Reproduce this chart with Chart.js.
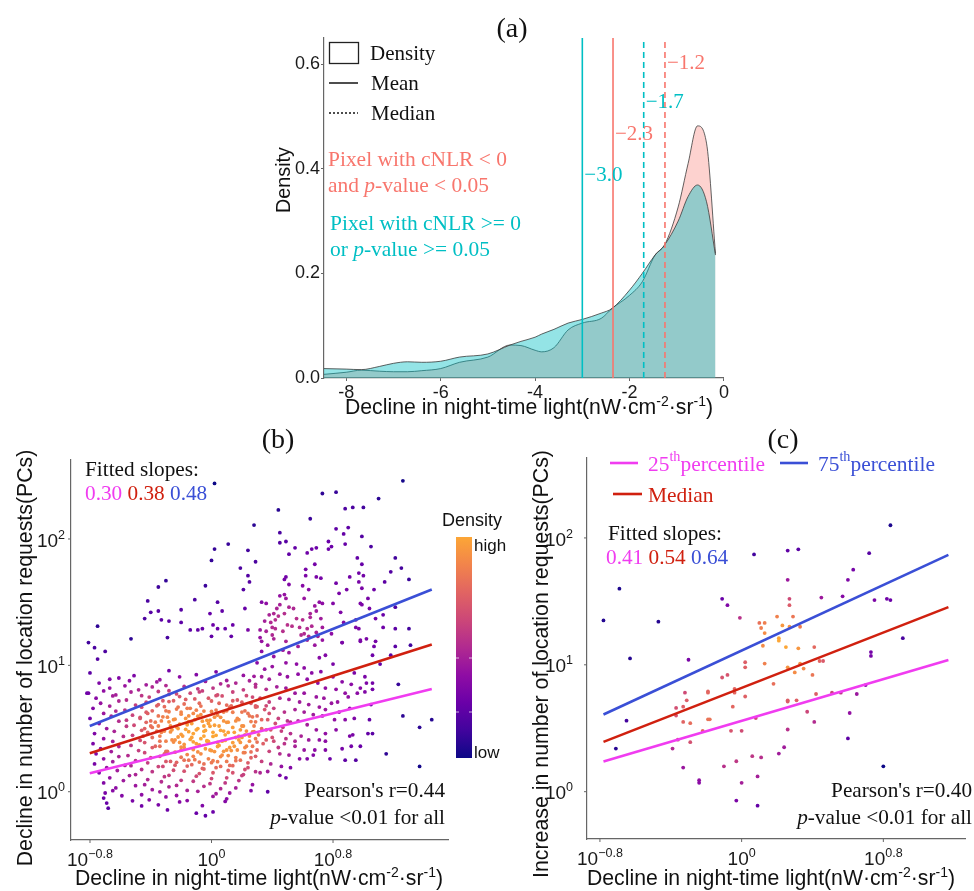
<!DOCTYPE html>
<html>
<head>
<meta charset="utf-8">
<script src="https://cdn.jsdelivr.net/npm/chart.js@4.4.0/dist/chart.umd.min.js"></script>
<style>
  body { margin: 0; background: #fff; width: 974px; height: 891px; overflow: hidden; position: relative; }
  canvas { position: absolute; }
  #ca { left: 240px; top: 0; }
  #cb { left: 0; top: 425px; }
  #cc { left: 490px; top: 425px; }
</style>
</head>
<body>
<canvas id="ca" width="490" height="425"></canvas>
<canvas id="cb" width="520" height="466"></canvas>
<canvas id="cc" width="484" height="466"></canvas>
<script>
// ---- panel (a): density of night-time light decline ----
const densityX    = [-8.47, -8.0, -7.68, -7.3, -7.0, -6.7, -6.4, -6.0, -5.6, -5.0, -4.53, -4.3, -4.0, -3.86, -3.6, -3.3, -3.0, -2.6, -2.37, -2.0, -1.73, -1.46, -1.26, -0.97, -0.76, -0.56, -0.37, -0.18];
const densityTeal = [0.018, 0.017, 0.016, 0.022, 0.028, 0.031, 0.030, 0.032, 0.040, 0.046, 0.063, 0.070, 0.078, 0.084, 0.093, 0.105, 0.112, 0.124, 0.133, 0.168, 0.200, 0.235, 0.254, 0.300, 0.347, 0.369, 0.337, 0.235];
const densityPink = [0.007, 0.011, 0.015, 0.013, 0.012, 0.012, 0.014, 0.018, 0.030, 0.040, 0.063, 0.062, 0.053, 0.050, 0.058, 0.092, 0.105, 0.114, 0.133, 0.158, 0.184, 0.235, 0.254, 0.327, 0.410, 0.482, 0.449, 0.238];
const refLineX      = [-3.0, -2.35, -1.7, -1.25];
const refLineLabel  = ['\u22123.0', '\u22122.3', '\u22121.7', '\u22121.2'];
const refLineLabelY = [0.39, 0.47, 0.53, 0.605];
const refLineGroup  = ['teal', 'pink', 'teal', 'pink'];
const refLineKind   = ['mean', 'mean', 'median', 'median'];

// ---- panel (b): log10 of (decline in NTL, decline in requests) ----
const bLogPts = [
  [0.02,2.44],[0.28,2.11],[0.02,1.92],[0.11,1.96],[0.24,1.91],[0.0,1.83],[0.29,1.82],[-0.30,1.67],[-0.35,1.62],[-0.04,1.63],
  [0.19,1.77],[0.24,1.71],[0.25,1.66],[0.21,1.60],[-0.42,1.51],[-0.11,1.52],[0.04,1.50],[-0.40,1.42],[-0.35,1.43],[-0.44,1.37],
  [-0.33,1.36],[-0.28,1.35],[-0.20,1.44],[-0.01,1.41],[0.07,1.43],[0.22,1.45],[-0.20,1.34],[-0.75,1.31],[-0.14,1.28],[-0.09,1.28],
  [-0.06,1.29],[0.01,1.32],[0.04,1.29],[0.09,1.29],[0.14,1.32],[0.24,1.28],[-0.29,1.22],[-0.53,1.21],[-0.81,1.18],[0.0,1.23],[0.13,1.23],
  [1.26,2.46],[0.73,2.36],[0.82,2.37],[1.10,2.32],[0.44,2.23],[0.88,2.24],[0.93,2.25],[1.00,2.25],[0.65,2.16],[0.45,2.05],
  [0.82,2.08],[0.90,2.09],[0.87,2.04],[0.99,2.02],[0.45,1.97],[0.49,1.98],[0.55,1.93],[0.51,1.88],[0.63,1.89],[0.66,1.92],
  [0.69,1.93],[0.77,1.98],[0.79,1.94],[0.77,1.92],[0.88,1.96],[1.05,1.94],[0.68,1.80],[0.96,1.85],[0.99,1.80],[1.21,1.85],
  [1.25,1.77],[1.18,1.74],[1.30,1.68],[0.62,1.76],[0.62,1.71],[0.49,1.70],[0.48,1.68],[0.69,1.70],[0.72,1.69],[0.91,1.70],
  [0.97,1.73],[1.00,1.71],[0.51,1.64],[0.60,1.63],[0.82,1.65],[0.97,1.66],[0.99,1.61],[1.14,1.66],[0.64,1.60],[0.89,1.60],
  [1.07,1.60],[0.84,1.57],[0.45,1.55],[0.48,1.56],[0.61,1.53],[1.03,1.53],[0.33,1.50],[0.36,1.49],[0.49,1.53],[0.68,1.47],
  [0.71,1.50],[0.73,1.49],[0.80,1.49],[0.98,1.49],[0.99,1.48],[1.21,1.46],[1.04,1.45],[0.85,1.42],[1.13,1.40],[1.08,1.37],
  [0.95,1.36],[0.87,1.34],[0.95,1.30],[0.97,1.29],[1.13,1.30],[1.21,1.29],[1.30,1.29],[0.79,1.25],[0.98,1.20],[1.02,1.21],
  [1.08,1.19],[0.86,1.18],
  [0.43,1.45],[0.45,1.48],[0.51,1.46],[0.54,1.45],[0.38,1.40],[0.41,1.41],[0.44,1.39],[0.48,1.41],[0.35,1.35],[0.39,1.34],
  [0.42,1.36],[0.56,1.37],[0.60,1.36],[0.65,1.41],[0.65,1.38],[0.69,1.43],[0.32,1.28],[0.36,1.27],[0.40,1.30],[0.42,1.29],
  [0.50,1.32],[0.53,1.31],[0.58,1.30],[0.63,1.29],[0.66,1.31],[0.72,1.37],[0.73,1.30],[0.32,1.22],[0.40,1.24],[0.47,1.27],
  [0.59,1.24],[0.61,1.25],[0.64,1.23],[0.69,1.26],[0.70,1.23],[0.33,1.19],[0.41,1.21],[0.49,1.19],[0.63,1.20],[0.73,1.20],
  [-0.77,1.14],[-0.70,1.11],[-0.75,1.05],[-0.82,0.78],[-0.67,0.89],[1.26,0.60],
  [-0.80,0.94],[-0.28,0.958],[-0.10,0.926],[0.03,0.949],[0.21,0.92],
  [-0.61,0.90],[-0.51,0.918],[-0.34,0.886],[-0.21,0.909],[0.10,0.88],[0.28,0.913],
  [-0.74,0.86],[-0.54,0.878],[-0.43,0.846],[-0.36,0.869],[-0.30,0.84],[-0.04,0.873],[0.06,0.854],[0.16,0.86],[0.25,0.878],
  [-0.67,0.82],[-0.57,0.838],[-0.48,0.806],[-0.39,0.829],[-0.28,0.80],[-0.18,0.833],[-0.09,0.814],[0.01,0.82],[0.11,0.838],[0.21,0.806],[0.29,0.829],
  [-0.81,0.78],[-0.71,0.798],[-0.63,0.766],[-0.53,0.789],[-0.46,0.76],[-0.35,0.793],[-0.23,0.774],[-0.14,0.78],[-0.06,0.798],[0.04,0.766],[0.14,0.789],[0.23,0.76],
  [-0.76,0.74],[-0.65,0.758],[-0.56,0.726],[-0.41,0.749],[-0.32,0.72],[-0.21,0.753],[-0.11,0.734],[-0.02,0.74],[0.07,0.758],[0.17,0.726],[0.27,0.749],
  [-0.73,0.70],[-0.61,0.718],[-0.50,0.686],[-0.43,0.709],[-0.36,0.68],[-0.28,0.713],[-0.18,0.694],[-0.08,0.70],[0.0,0.718],[0.10,0.686],[0.20,0.709],[0.29,0.68],
  [-0.78,0.66],[-0.67,0.678],[-0.57,0.646],[-0.46,0.669],[-0.39,0.64],[-0.31,0.673],[-0.23,0.654],[-0.16,0.66],[-0.07,0.678],[0.03,0.646],[0.12,0.669],[0.22,0.64],[0.30,0.673],
  [-0.71,0.62],[-0.63,0.638],[-0.52,0.606],[-0.43,0.629],[-0.35,0.60],[-0.28,0.633],[-0.20,0.614],[-0.12,0.62],[-0.05,0.638],[0.04,0.606],[0.14,0.629],[0.25,0.60],
  [-0.80,0.58],[-0.66,0.598],[-0.56,0.566],[-0.47,0.589],[-0.40,0.56],[-0.32,0.593],[-0.24,0.574],[-0.17,0.58],[-0.09,0.598],[-0.01,0.566],[0.06,0.589],[0.16,0.56],[0.27,0.593],
  [-0.74,0.54],[-0.61,0.558],[-0.51,0.526],[-0.43,0.549],[-0.35,0.52],[-0.28,0.553],[-0.21,0.534],[-0.13,0.54],[-0.06,0.558],[0.02,0.526],[0.10,0.549],[0.20,0.52],[0.29,0.553],
  [-0.69,0.50],[-0.56,0.518],[-0.46,0.486],[-0.39,0.509],[-0.31,0.48],[-0.23,0.513],[-0.17,0.494],[-0.09,0.50],[-0.01,0.518],[0.06,0.486],[0.14,0.509],[0.23,0.48],
  [-0.77,0.46],[-0.64,0.478],[-0.52,0.446],[-0.42,0.469],[-0.34,0.44],[-0.27,0.473],[-0.20,0.454],[-0.12,0.46],[-0.05,0.478],[0.03,0.446],[0.11,0.469],[0.18,0.44],[0.27,0.473],
  [-0.71,0.42],[-0.58,0.438],[-0.47,0.406],[-0.39,0.429],[-0.30,0.40],[-0.22,0.433],[-0.14,0.414],[-0.07,0.42],[0.01,0.438],[0.09,0.406],[0.16,0.429],[0.25,0.40],
  [-0.78,0.38],[-0.65,0.398],[-0.53,0.366],[-0.44,0.389],[-0.34,0.36],[-0.25,0.393],[-0.18,0.374],[-0.10,0.38],[-0.02,0.398],[0.05,0.366],[0.14,0.389],[0.23,0.36],[0.30,0.393],
  [-0.73,0.34],[-0.61,0.358],[-0.48,0.326],[-0.39,0.349],[-0.29,0.32],[-0.20,0.353],[-0.12,0.334],[-0.04,0.34],[0.04,0.358],[0.13,0.326],[0.22,0.349],
  [-0.76,0.30],[-0.66,0.318],[-0.55,0.286],[-0.44,0.309],[-0.34,0.28],[-0.24,0.313],[-0.16,0.294],[-0.07,0.30],[0.02,0.318],[0.11,0.286],[0.21,0.309],[0.29,0.28],
  [-0.71,0.26],[-0.61,0.278],[-0.50,0.246],[-0.40,0.269],[-0.30,0.24],[-0.20,0.273],[-0.11,0.254],[-0.02,0.26],[0.06,0.278],[0.16,0.246],[0.26,0.269],
  [-0.77,0.22],[-0.65,0.238],[-0.53,0.206],[-0.42,0.229],[-0.32,0.20],[-0.23,0.233],[-0.13,0.214],[-0.05,0.22],[0.04,0.238],[0.14,0.206],[0.24,0.229],
  [-0.69,0.19],[-0.57,0.208],[-0.46,0.176],[-0.35,0.199],[-0.25,0.17],[-0.16,0.203],[-0.06,0.184],[0.03,0.19],[0.12,0.208],[0.22,0.176],
  [-0.74,0.15],[-0.62,0.168],[-0.50,0.136],[-0.39,0.159],[-0.28,0.13],[-0.18,0.163],[-0.08,0.144],[0.01,0.15],[0.11,0.168],[0.21,0.136],[0.29,0.159],
  [-0.67,0.11],[-0.54,0.128],[-0.42,0.096],[-0.31,0.119],[-0.20,0.09],[-0.10,0.123],[0.0,0.104],[0.10,0.11],[0.20,0.128],
  [-0.71,0.07],[-0.58,0.088],[-0.44,0.056],[-0.33,0.079],[-0.23,0.05],[-0.12,0.083],[-0.01,0.064],[0.09,0.07],[0.18,0.088],[0.27,0.056],
  [-0.63,0.03],[-0.50,0.048],[-0.39,0.016],[-0.28,0.039],[-0.16,0.01],[-0.05,0.043],[0.06,0.024],[0.16,0.03],
  [-0.70,-0.01],[-0.65,0.008],[-0.46,-0.024],[-0.34,-0.001],[-0.23,-0.03],[-0.09,0.003],[0.03,-0.016],[0.12,-0.01],[0.26,0.008],
  [-0.71,-0.05],[-0.59,-0.032],[-0.41,-0.064],[-0.30,-0.041],[-0.16,-0.07],[0.01,-0.037],[0.10,-0.056],
  [-0.69,-0.09],[-0.52,-0.072],[-0.35,-0.104],[-0.21,-0.081],[-0.06,-0.11],[0.09,-0.077],
  [-0.68,-0.13],[-0.46,-0.112],[-0.29,-0.144],[-0.10,-0.17],[0.01,-0.16],[-0.04,-0.19],
  [-0.30,0.64],[-0.20,0.63],[-0.10,0.645],[0.0,0.635],[0.10,0.64],[0.20,0.63],
  [-0.33,0.56],[-0.25,0.57],[-0.15,0.555],[-0.03,0.565],[0.08,0.56],[0.18,0.57],[0.26,0.555],
  [-0.36,0.48],[-0.26,0.49],[-0.15,0.475],[-0.04,0.485],[0.08,0.48],[0.19,0.49],[0.28,0.475],
  [-0.34,0.40],[-0.24,0.41],[-0.12,0.395],[-0.03,0.405],[0.07,0.40],[0.18,0.41],
  [-0.30,0.32],[-0.20,0.33],[-0.09,0.315],[0.0,0.325],[0.08,0.32],[0.17,0.33],[0.26,0.315],
  [-0.27,0.24],[-0.18,0.25],[-0.08,0.235],[0.01,0.245],[0.10,0.24],[0.19,0.25],
  [-0.45,0.44],[0.22,0.45],[-0.40,0.52],[-0.05,0.52],[0.15,0.36],[-0.15,0.60],[0.05,0.70],[-0.25,0.72],
  [-0.42,0.62],[-0.37,0.55],[-0.33,0.47],[-0.29,0.59],[-0.27,0.52],[-0.26,0.41],[-0.22,0.67],[-0.22,0.50],[-0.19,0.44],[-0.18,0.35],
  [-0.16,0.53],[-0.14,0.66],[-0.13,0.43],[-0.11,0.57],[-0.10,0.49],[-0.08,0.37],[-0.07,0.61],[-0.05,0.44],[-0.02,0.54],[-0.01,0.33],
  [0.01,0.47],[0.02,0.59],[0.04,0.39],[0.05,0.52],[0.07,0.29],[0.08,0.63],[0.09,0.45],[0.11,0.55],[0.12,0.35],[0.13,0.68],
  [0.15,0.47],[0.16,0.27],[0.17,0.58],[0.19,0.39],[0.21,0.52],[0.22,0.31],[0.24,0.62],[0.25,0.44],[0.27,0.36],[0.28,0.52],
  [0.31,0.45],[0.33,0.57],[0.34,0.38],[0.36,0.49],[0.38,0.62],[0.40,0.43],[0.42,0.54],[0.44,0.35],[0.47,0.51],[0.49,0.42],
  [0.52,0.55],[0.55,0.40],[-0.31,0.30],[-0.24,0.21],[-0.15,0.25],[-0.05,0.18],[0.06,0.20],[0.14,0.15],[0.24,0.19],[-0.37,0.36],
  [-0.44,0.50],[-0.47,0.58],[-0.35,0.69],[-0.28,0.77],[-0.17,0.73],[-0.08,0.79],[0.03,0.76],[0.14,0.72],[0.26,0.70],[0.36,0.68],
  [-0.12,0.28],[0.00,0.23],[-0.21,0.39],[0.10,0.33],[0.20,0.43],[-0.03,0.40],
  [0.86,1.18],[0.98,1.19],[1.07,1.15],[1.06,1.08],[1.21,1.15],[1.31,1.16],[1.18,1.08],[1.11,1.01],[0.80,1.01],[0.75,1.08],
  [0.71,1.06],[0.68,1.16],[0.57,1.15],[0.51,1.10],[0.47,1.12],[0.41,1.07],[0.37,1.16],[0.33,1.11],[0.30,1.02],[0.35,0.97],
  [0.40,0.99],[0.49,1.02],[0.56,1.01],[0.61,0.98],[0.66,0.94],[0.72,0.95],[0.80,0.91],[0.86,0.87],[0.94,0.94],[1.01,0.91],
  [1.02,0.86],[1.06,0.86],[1.06,0.81],[0.98,0.82],[0.92,0.85],[0.88,0.78],[0.82,0.81],[0.75,0.82],[0.70,0.86],[0.63,0.89],
  [0.57,0.93],[0.50,0.91],[0.45,0.93],[0.38,0.89],[0.33,0.91],[0.29,0.85],[0.36,0.81],[0.43,0.83],[0.49,0.82],[0.55,0.78],
  [0.61,0.78],[0.69,0.75],[0.74,0.74],[0.79,0.70],[0.83,0.71],[0.90,0.75],[0.96,0.78],[1.01,0.79],[1.23,0.85],[1.05,0.69],
  [0.91,0.66],[0.84,0.63],[0.75,0.65],[0.71,0.67],[0.64,0.69],[0.58,0.71],[0.51,0.73],[0.45,0.74],[0.38,0.71],[0.32,0.74],
  [0.29,0.67],[0.35,0.65],[0.41,0.66],[0.48,0.63],[0.55,0.65],[0.61,0.63],[0.67,0.61],[0.73,0.60],[0.81,0.57],[0.88,0.57],
  [0.94,0.58],[1.04,0.57],[1.45,0.57],[1.37,0.51],[0.30,0.60],[0.37,0.57],[0.44,0.58],[0.50,0.56],[0.57,0.56],[0.63,0.53],
  [0.69,0.49],[0.75,0.46],[0.82,0.49],[0.91,0.44],[0.93,0.45],[1.03,0.46],[1.06,0.46],[0.33,0.50],[0.39,0.49],[0.46,0.48],
  [0.52,0.46],[0.59,0.44],[0.64,0.41],[0.71,0.41],[0.75,0.40],[0.86,0.34],[0.92,0.36],[0.98,0.36],[0.29,0.42],[0.36,0.41],
  [0.41,0.40],[0.48,0.38],[0.55,0.36],[0.61,0.33],[0.68,0.33],[0.75,0.33],[0.63,0.26],[0.67,0.29],[0.78,0.26],[1.15,0.30],
  [0.88,0.25],[0.95,0.25],[0.30,0.33],[0.38,0.32],[0.45,0.30],[0.51,0.29],[0.58,0.26],[1.37,0.20],[0.33,0.24],[0.39,0.22],
  [0.46,0.20],[0.52,0.19],[0.32,0.15],[0.37,0.16],[0.45,0.13],[0.49,0.11],[0.37,0.00]
];
const bFitX    = [0.158, 28.2];
const bFitQ25  = [1.40, 6.5];
const bFitMed  = [2.02, 14.6];
const bFitQ75  = [3.31, 39.8];
const bSlopes  = ['0.30', '0.38', '0.48'];
const bPearson = '0.44';

// ---- panel (c): log10 of (decline in NTL, increase in requests) ----
const cLogPts = [
  [-0.78,1.35],[-0.69,1.60],[-0.47,1.34],[-0.63,1.05],[-0.65,0.56],[-0.71,0.34],[0.84,2.10],[0.91,1.21],
  [0.07,1.87],[0.26,1.90],[0.32,1.91],[0.72,1.88],[0.63,1.75],[0.60,1.67],[0.26,1.67],
  [-0.11,1.52],[-0.08,1.47],[0.27,1.52],[0.27,1.47],[0.45,1.53],[0.57,1.54],[0.75,1.51],[0.82,1.52],[0.84,1.51],
  [-0.01,1.37],[0.10,1.33],[0.13,1.33],[0.11,1.29],[0.13,1.25],[0.20,1.38],[0.23,1.31],[0.29,1.38],[0.27,1.30],[0.33,1.30],
  [0.21,1.21],[0.21,1.19],[0.12,1.15],[0.25,1.14],[0.32,1.13],[0.41,1.14],[0.73,1.10],[0.73,1.07],
  [-0.30,1.04],[0.02,1.02],[0.02,0.98],[0.13,1.01],[0.26,0.98],[0.33,1.01],[0.35,0.97],[0.30,0.94],[0.40,0.92],[0.44,1.03],[0.46,1.03],
  [-0.11,0.90],[-0.08,0.92],[0.18,0.85],[-0.19,0.79],[-0.19,0.78],[-0.04,0.81],[-0.04,0.78],[-0.32,0.78],[-0.31,0.72],
  [-0.37,0.66],[-0.33,0.67],[-0.37,0.60],[-0.33,0.55],[-0.29,0.54],[-0.19,0.57],[-0.18,0.57],[-0.05,0.67],[0.02,0.75],[0.08,0.58],
  [0.26,0.72],[0.26,0.71],[0.31,0.72],[0.42,0.77],[0.51,0.78],[0.56,0.78],[0.65,0.77],[0.70,0.84],[0.61,0.62],[0.37,0.63],[0.41,0.55],[0.26,0.49],
  [-0.22,0.48],[0.00,0.48],[-0.06,0.48],[-0.39,0.34],[-0.36,0.41],[-0.29,0.39],[0.60,0.42],
  [-0.33,0.19],[-0.10,0.20],[-0.03,0.24],[0.06,0.28],[0.11,0.27],[0.21,0.30],[0.24,0.35],[0.09,0.12],[0.00,0.07],
  [-0.24,0.09],[-0.24,0.07],[-0.03,-0.07],[0.09,-0.11],[0.80,0.20]
];
const cFitX    = [0.166, 14.7];
const cFitQ25  = [1.73, 10.9];
const cFitMed  = [2.47, 28.5];
const cFitQ75  = [4.06, 73.6];
const cSlopes  = ['0.41', '0.54', '0.64'];
const cPearson = '0.40';

// log axes: tick exponents
const xTickExp = [-0.8, 0, 0.8];
const yTickExp = [0, 1, 2];

// ---- styles ----
const SANS = '"Liberation Sans", Arial, sans-serif';
const SERIF = '"Liberation Serif", "Times New Roman", serif';
const PINK = '#F8766D', TEAL = '#00BFC4';
const MAG = '#F03CF0', RED = '#D0200F', BLUE = '#3A4FD6';
const AXIS = '#666';

const PLASMA = [[13,8,135],[65,4,157],[106,0,168],[143,13,164],[177,42,144],[204,71,120],[225,100,98],[242,132,75],[252,166,54]];
function plasma(t) { // t in [0,1] -> plasma 0..0.8
  t = Math.max(0, Math.min(1, t)) * (PLASMA.length - 1);
  const i = Math.min(PLASMA.length - 2, Math.floor(t)), f = t - i;
  const c = PLASMA[i].map((v, k) => Math.round(v + (PLASMA[i + 1][k] - v) * f));
  return `rgb(${c[0]},${c[1]},${c[2]})`;
}
// colour points by local point density (gaussian kernel, in screen-like units)
function densityColors(pts, sx, sy, sigma, gamma) {
  const d = pts.map(() => 0);
  for (let i = 0; i < pts.length; i++) {
    for (let j = 0; j < pts.length; j++) {
      const dx = (pts[i][0] - pts[j][0]) * sx, dy = (pts[i][1] - pts[j][1]) * sy;
      d[i] += Math.exp(-(dx * dx + dy * dy) / (2 * sigma * sigma));
    }
  }
  const mn = Math.min(...d), mx = Math.max(...d);
  return d.map(v => plasma(Math.pow((v - mn) / (mx - mn), gamma)));
}

// ---- rich text helpers (superscripts / italics) ----
function segFont(s, size, fam) {
  return (s.it ? 'italic ' : '') + (s.sup ? size * 0.66 : size).toFixed(2) + 'px ' + fam;
}
function richWidth(ctx, segs, size, fam) {
  let w = 0;
  for (const s of segs) { ctx.font = segFont(s, size, fam); w += ctx.measureText(s.t).width; }
  return w;
}
function drawRich(ctx, segs, x, y, o) {
  let size = o.size;
  if (o.fitW) size = size * o.fitW / richWidth(ctx, segs, size, o.fam);
  const w = richWidth(ctx, segs, size, o.fam);
  ctx.save();
  ctx.translate(x, y);
  if (o.rot) ctx.rotate(o.rot);
  let cx = o.align === 'center' ? -w / 2 : o.align === 'right' ? -w : 0;
  ctx.textAlign = 'left';
  ctx.textBaseline = 'alphabetic';
  const base = size * 0.35;
  for (const s of segs) {
    ctx.font = segFont(s, size, o.fam);
    ctx.fillStyle = s.c || o.color || '#111';
    ctx.fillText(s.t, cx, base - (s.sup ? size * 0.42 : 0));
    cx += ctx.measureText(s.t).width;
  }
  ctx.restore();
  return size;
}
const T = t => ({ t });
const xTitleSegs = [T('Decline in night-time light(nW\u00b7cm'), { t: '-2', sup: true }, T('\u00b7sr'), { t: '-1', sup: true }, T(')')];

function drawLogTicks(chart, o) {
  const ctx = chart.ctx, xs = chart.scales.x, ys = chart.scales.y, a = chart.chartArea;
  ctx.save();
  ctx.strokeStyle = AXIS; ctx.lineWidth = 1;
  xTickExp.forEach(e => {
    const px = xs.getPixelForValue(Math.pow(10, e));
    ctx.beginPath(); ctx.moveTo(px, a.bottom); ctx.lineTo(px, a.bottom + 3); ctx.stroke();
    const lab = e === 0 ? '0' : (e < 0 ? '\u2212' : '') + Math.abs(e).toFixed(1);
    drawRich(ctx, [T('10'), { t: lab, sup: true }], px, a.bottom + 19, { size: 19, fam: SANS, align: 'center', color: '#1a1a1a' });
  });
  yTickExp.forEach(e => {
    const py = ys.getPixelForValue(Math.pow(10, e));
    ctx.beginPath(); ctx.moveTo(a.left, py); ctx.lineTo(a.left - 3, py); ctx.stroke();
    drawRich(ctx, [T('10'), { t: String(e), sup: true }], a.left - o.yLabGap, py + 1, { size: 19, fam: SANS, align: 'right', color: '#1a1a1a' });
  });
  ctx.restore();
}

// ---------------- chart (a) ----------------
const decorA = {
  id: 'decorA',
  afterDraw(chart) {
    const ctx = chart.ctx, xs = chart.scales.x, ys = chart.scales.y;
    ctx.save();
    ctx.translate(-240, 0); // page coordinates
    drawRich(ctx, [T('(a)')], 512, 27, { size: 28, fam: SERIF, align: 'center' });
    drawRich(ctx, [T('Density')], 283, 180, { size: 19, fam: SANS, align: 'center', rot: -Math.PI / 2, fitW: 66 });
    drawRich(ctx, xTitleSegs, 529, 407, { size: 18, fam: SANS, align: 'center', fitW: 368 });
    // legend keys
    ctx.strokeStyle = '#222'; ctx.lineWidth = 1.3;
    ctx.strokeRect(329.5, 42.5, 29, 21);
    ctx.beginPath(); ctx.moveTo(329, 83); ctx.lineTo(358, 83); ctx.lineWidth = 1.6; ctx.stroke();
    ctx.setLineDash([2, 2]); ctx.beginPath(); ctx.moveTo(329, 113); ctx.lineTo(358, 113); ctx.stroke(); ctx.setLineDash([]);
    drawRich(ctx, [T('Density')], 370, 53, { size: 21, fam: SERIF });
    drawRich(ctx, [T('Mean')], 371, 83, { size: 21, fam: SERIF });
    drawRich(ctx, [T('Median')], 371, 113, { size: 21, fam: SERIF });
    const s1 = drawRich(ctx, [T('Pixel with cNLR < 0')], 328, 158, { size: 21, fam: SERIF, color: PINK, fitW: 179 });
    drawRich(ctx, [T('and '), { t: 'p', it: true }, T('-value < 0.05')], 328, 184, { size: s1, fam: SERIF, color: PINK });
    drawRich(ctx, [T('Pixel with cNLR >= 0')], 330, 222, { size: s1, fam: SERIF, color: TEAL });
    drawRich(ctx, [T('or '), { t: 'p', it: true }, T('-value >= 0.05')], 330, 248, { size: s1, fam: SERIF, color: TEAL });
    ctx.restore();
    // labels beside the mean / median lines (data positions)
    refLineX.forEach((v, i) => {
      drawRich(ctx, [T(refLineLabel[i])], xs.getPixelForValue(v) + 2, ys.getPixelForValue(refLineLabelY[i]),
        { size: 21, fam: SERIF, color: refLineGroup[i] === 'teal' ? TEAL : PINK });
    });
  }
};

const dsA = [
  { data: densityX.map((x, i) => ({ x, y: densityPink[i] })), fill: 'origin', backgroundColor: 'rgba(248,118,109,0.33)',
    borderColor: '#3a3a3a', borderWidth: 0.8, pointRadius: 0, cubicInterpolationMode: 'monotone', order: 3 },
  { data: densityX.map((x, i) => ({ x, y: densityTeal[i] })), fill: 'origin', backgroundColor: 'rgba(0,191,196,0.42)',
    borderColor: '#3a3a3a', borderWidth: 0.8, pointRadius: 0, cubicInterpolationMode: 'monotone', order: 2 }
];
refLineX.forEach((v, i) => dsA.push({
  data: [{ x: v, y: 0 }, { x: v, y: 0.65 }], fill: false, pointRadius: 0, borderWidth: 1.6,
  borderColor: refLineGroup[i] === 'teal' ? TEAL : PINK, borderDash: refLineKind[i] === 'median' ? [6, 4] : [], order: 1
}));

new Chart(document.getElementById('ca'), {
  type: 'line',
  data: { datasets: dsA },
  options: {
    responsive: false, animation: false, devicePixelRatio: 1,
    layout: { padding: { left: 0, right: 4, top: 38, bottom: 0 } },
    plugins: { legend: { display: false }, tooltip: { enabled: false } },
    scales: {
      x: { type: 'linear', min: -8.47, max: 0,
        afterFit(s) { s.height = 47; },
        ticks: { stepSize: 2, includeBounds: false, maxRotation: 0, padding: 1, color: '#1a1a1a', font: { family: SANS, size: 18 } },
        grid: { drawOnChartArea: false, tickLength: 3, color: AXIS }, border: { color: AXIS, width: 1.2 } },
      y: { min: 0, max: 0.65,
        afterFit(s) { s.width = 84; },
        ticks: { stepSize: 0.2, includeBounds: false, padding: 1, color: '#1a1a1a', font: { family: SANS, size: 18 }, callback: v => v.toFixed(1) },
        grid: { drawOnChartArea: false, tickLength: 3, color: AXIS }, border: { color: AXIS, width: 1.2 } }
    }
  },
  plugins: [decorA]
});

// ---------------- scatter panels (b) and (c) ----------------
function fitSet(xs, ys, color) {
  return { data: xs.map((x, i) => ({ x, y: ys[i] })), showLine: true, borderColor: color, borderWidth: 2.6,
    pointRadius: 0, fill: false, order: 0 };
}
function scatterOptions(p) {
  return {
    responsive: false, animation: false, devicePixelRatio: 1,
    layout: { padding: { left: 0, right: p.padRight, top: p.padTop, bottom: 0 } },
    plugins: { legend: { display: false }, tooltip: { enabled: false } },
    scales: {
      x: { type: 'logarithmic', min: Math.pow(10, p.xExp[0]), max: Math.pow(10, p.xExp[1]),
        afterFit(s) { s.height = p.xH; }, ticks: { display: false }, grid: { display: false },
        border: { color: AXIS, width: 1.2 } },
      y: { type: 'logarithmic', min: Math.pow(10, p.yExp[0]), max: Math.pow(10, p.yExp[1]),
        afterFit(s) { s.width = p.yW; }, ticks: { display: false }, grid: { display: false },
        border: { color: AXIS, width: 1.2 } }
    }
  };
}

const decorB = {
  id: 'decorB',
  afterDraw(chart) {
    const ctx = chart.ctx;
    drawLogTicks(chart, { yLabGap: 6 });
    ctx.save();
    ctx.translate(0, -425);
    drawRich(ctx, [T('(b)')], 278, 438, { size: 28, fam: SERIF, align: 'center' });
    drawRich(ctx, [T('Decline in number of location requests(PCs)')], 25, 658, { size: 19, fam: SANS, align: 'center', rot: -Math.PI / 2, fitW: 417 });
    drawRich(ctx, xTitleSegs, 259, 878, { size: 18, fam: SANS, align: 'center', fitW: 368 });
    const s = drawRich(ctx, [T('Fitted slopes:')], 85, 469, { size: 21, fam: SERIF, fitW: 114 });
    drawRich(ctx, [{ t: bSlopes[0], c: MAG }, T(' '), { t: bSlopes[1], c: RED }, T(' '), { t: bSlopes[2], c: BLUE }], 85, 493, { size: s, fam: SERIF });
    drawRich(ctx, [T("Pearson's r=" + bPearson)], 445, 790, { size: s, fam: SERIF, align: 'right' });
    drawRich(ctx, [{ t: 'p', it: true }, T('-value <0.01 for all')], 445, 817, { size: s, fam: SERIF, align: 'right' });
    // colour bar
    const g = ctx.createLinearGradient(0, 758, 0, 537);
    for (let k = 0; k <= 8; k++) g.addColorStop(k / 8, plasma(k / 8));
    ctx.fillStyle = g;
    ctx.fillRect(456, 537, 16, 221);
    ctx.strokeStyle = 'rgba(255,255,255,0.7)'; ctx.lineWidth = 1;
    [658, 712].forEach(y => {
      ctx.beginPath(); ctx.moveTo(456, y); ctx.lineTo(459, y); ctx.moveTo(469, y); ctx.lineTo(472, y); ctx.stroke();
    });
    drawRich(ctx, [T('Density')], 442, 520, { size: 18, fam: SANS });
    drawRich(ctx, [T('high')], 474, 545, { size: 17, fam: SANS });
    drawRich(ctx, [T('low')], 474, 752, { size: 17, fam: SANS });
    ctx.restore();
  }
};

const bColors = densityColors(bLogPts, 152, 126, 16, 0.7);
new Chart(document.getElementById('cb'), {
  type: 'scatter',
  data: { datasets: [
    fitSet(bFitX, bFitQ75, BLUE), fitSet(bFitX, bFitMed, RED), fitSet(bFitX, bFitQ25, MAG),
    { data: bLogPts.map(p => ({ x: Math.pow(10, p[0]), y: Math.pow(10, p[1]) })), backgroundColor: bColors,
      pointRadius: 1.9, pointBorderWidth: 0, borderWidth: 0, order: 1 }
  ] },
  options: scatterOptions({ padRight: 72, padTop: 35, xH: 51, yW: 71, xExp: [-0.925, 1.557], yExp: [-0.382, 2.625] }),
  plugins: [decorB]
});

const decorC = {
  id: 'decorC',
  afterDraw(chart) {
    const ctx = chart.ctx;
    drawLogTicks(chart, { yLabGap: 14 });
    ctx.save();
    ctx.translate(-490, -425);
    drawRich(ctx, [T('(c)')], 783, 438, { size: 28, fam: SERIF, align: 'center' });
    drawRich(ctx, [T('Increase in number of location requests(PCs)')], 541, 664, { size: 19, fam: SANS, align: 'center', rot: -Math.PI / 2, fitW: 428 });
    drawRich(ctx, xTitleSegs, 771, 878, { size: 18, fam: SANS, align: 'center', fitW: 368 });
    // legend
    ctx.lineWidth = 2.6;
    [[610, 638, 463, MAG], [780, 808, 463, BLUE], [613, 642, 494, RED]].forEach(l => {
      ctx.strokeStyle = l[3]; ctx.beginPath(); ctx.moveTo(l[0], l[2]); ctx.lineTo(l[1], l[2]); ctx.stroke();
    });
    const ls = drawRich(ctx, [T('25'), { t: 'th', sup: true }, T('percentile')], 648, 463, { size: 21, fam: SERIF, color: MAG, fitW: 117 });
    drawRich(ctx, [T('75'), { t: 'th', sup: true }, T('percentile')], 818, 463, { size: ls, fam: SERIF, color: BLUE });
    drawRich(ctx, [T('Median')], 648, 494, { size: ls, fam: SERIF, color: RED });
    const s = drawRich(ctx, [T('Fitted slopes:')], 608, 533, { size: 21, fam: SERIF, fitW: 114 });
    drawRich(ctx, [{ t: cSlopes[0], c: MAG }, T(' '), { t: cSlopes[1], c: RED }, T(' '), { t: cSlopes[2], c: BLUE }], 606, 557, { size: s, fam: SERIF });
    drawRich(ctx, [T("Pearson's r=" + cPearson)], 972, 790, { size: s, fam: SERIF, align: 'right' });
    drawRich(ctx, [{ t: 'p', it: true }, T('-value <0.01 for all')], 972, 817, { size: s, fam: SERIF, align: 'right' });
    ctx.restore();
  }
};

const cColors = densityColors(cLogPts, 177, 126, 26, 0.8);
new Chart(document.getElementById('cc'), {
  type: 'scatter',
  data: { datasets: [
    fitSet(cFitX, cFitQ75, BLUE), fitSet(cFitX, cFitMed, RED), fitSet(cFitX, cFitQ25, MAG),
    { data: cLogPts.map(p => ({ x: Math.pow(10, p[0]), y: Math.pow(10, p[1]) })), backgroundColor: cColors,
      pointRadius: 1.9, pointBorderWidth: 0, borderWidth: 0, order: 1 }
  ] },
  options: scatterOptions({ padRight: 9, padTop: 33, xH: 52, yW: 97, xExp: [-0.873, 1.261], yExp: [-0.373, 2.63] }),
  plugins: [decorC]
});
</script>
</body>
</html>
